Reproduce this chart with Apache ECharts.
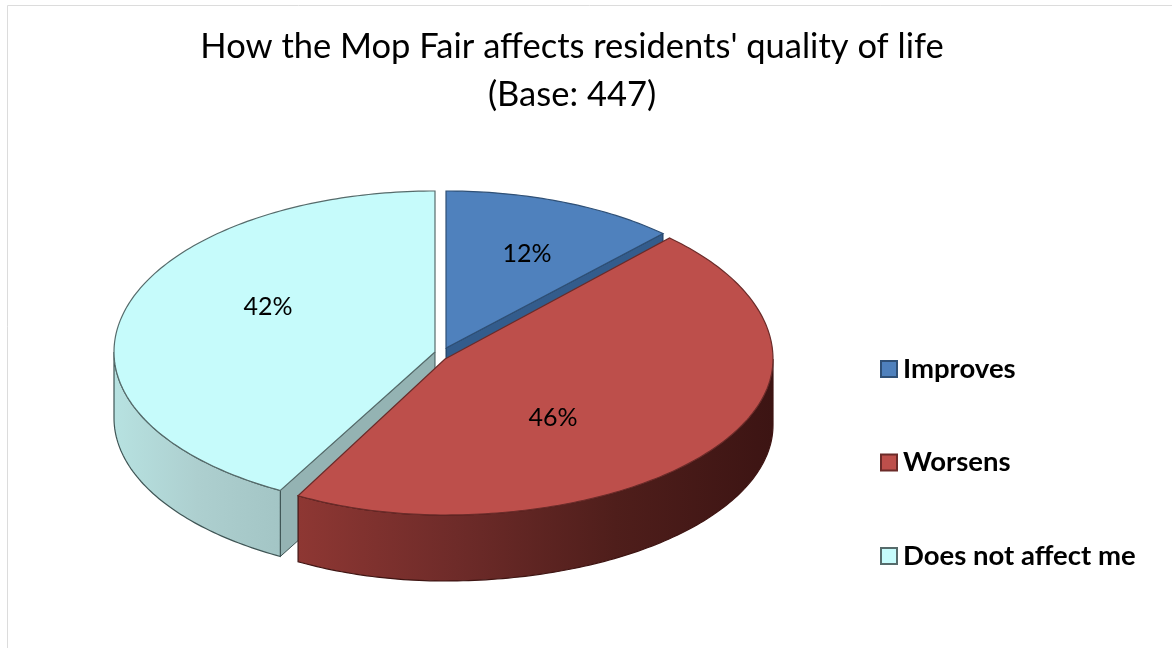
<!DOCTYPE html>
<html>
<head>
<meta charset="utf-8">
<style>
html, body { margin: 0; padding: 0; background: #fff; }
#chart { width: 1172px; height: 648px; }
</style>
<script src="https://cdn.jsdelivr.net/npm/echarts@6/dist/echarts.min.js"></script>
</head>
<body>
<div id="chart"></div>
<script>
const categories = ['Improves', 'Worsens', 'Does not affect me'];
const shares = [12, 46, 42];
const titleLines = ["How the Mop Fair affects residents' quality of life", '(Base: 447)'];

// each slice is exploded a bit differently in the original, so each has its own ellipse
const sliceLayout = [
    {cx: 446, cy: 348, rxL: 317, rxR: 317, ryT: 157, ryB: 157, labelX: 527, labelY: 254,
     top: '#4f81bd', line: '#2f5076', face: '#335c8c', faceLine: '#1d3a5c', rim: ['#3d6594', '#2c4a6e'], z: 1},
    {cx: 445, cy: 359, rxL: 305, rxR: 328, ryT: 166, ryB: 156, labelX: 553, labelY: 418,
     top: '#bd4f4b', line: '#6b2b29', face: '#7a2f2c', faceLine: '#3f1513', rim: ['#8e3733', '#6e2b29', '#4f1e1b', '#3c1413'], z: 10},
    {cx: 435, cy: 352, rxL: 321, rxR: 321, ryT: 161, ryB: 158, labelX: 268, labelY: 307,
     top: '#c6fbfb', line: '#566b6b', face: '#94b3b3', faceLine: '#3f5555', rim: ['#b7e2e1', '#adcfcf', '#a3c5c5'], z: 5}
];
const depth = 66;

const total = shares.reduce(function(a, b) { return a + b; }, 0);

function rimPoint(s, deg) {
    const rad = deg * Math.PI / 180;
    const sin = Math.sin(rad), cos = Math.cos(rad);
    return [s.cx + (sin >= 0 ? s.rxR : s.rxL) * sin, s.cy - (cos >= 0 ? s.ryT : s.ryB) * cos];
}

function arcPoints(s, from, to) {
    const pts = [];
    const steps = Math.max(2, Math.ceil(to - from));
    for (let i = 0; i <= steps; i++) {
        pts.push(rimPoint(s, from + (to - from) * i / steps));
    }
    return pts;
}

function down(p) {
    return [p[0], p[1] + depth];
}

function renderSlice(index, params, api) {
    const s = sliceLayout[index];
    let before = 0;
    for (let i = 0; i < index; i++) before += shares[i];
    const from = before / total * 360;
    const to = from + api.value(0) / total * 360;
    const apex = [s.cx, s.cy];
    const children = [];

    // cut faces, the red ones stay hidden from this viewpoint
    if (index !== 1) {
        [from, to].forEach(function(deg) {
            if (deg === 0 || deg === 360) return;
            const p = rimPoint(s, deg);
            children.push({
                type: 'polygon',
                z2: s.z,
                shape: {points: [apex, p, down(p), down(apex)]},
                style: {fill: s.face, stroke: s.faceLine, lineWidth: 1}
            });
        });
    }

    // outer wall for the part of the slice facing the viewer
    const rimFrom = Math.max(from, 90), rimTo = Math.min(to, 270);
    if (rimTo > rimFrom) {
        const arc = arcPoints(s, rimFrom, rimTo);
        const stops = s.rim.map(function(c, i) {
            return {offset: i / (s.rim.length - 1), color: c};
        });
        children.push({
            type: 'polygon',
            z2: s.z + 1,
            shape: {points: arc.concat(arc.map(down).reverse())},
            style: {
                fill: new echarts.graphic.LinearGradient(0, 0, 1, 0, stops),
                stroke: s.faceLine,
                lineWidth: 1.2
            }
        });
    }

    // top surface
    children.push({
        type: 'polygon',
        z2: s.z + 2,
        shape: {points: [apex].concat(arcPoints(s, from, to))},
        style: {fill: s.top, stroke: s.line, lineWidth: 1.2}
    });

    children.push({
        type: 'text',
        z2: 50,
        style: {
            x: s.labelX,
            y: s.labelY,
            text: api.value(0) + '%',
            fill: '#000',
            font: '25px Lato',
            align: 'center',
            verticalAlign: 'middle'
        }
    });

    return {type: 'group', children: children};
}

const chart = echarts.init(document.getElementById('chart'));

const option = {
    animation: false,
    backgroundColor: '#fff',
    title: {
        text: titleLines.join('\n'),
        left: 567,
        top: 18,
        textAlign: 'center',
        textStyle: {
            fontFamily: 'Lato',
            fontWeight: 'normal',
            fontSize: 34.5,
            lineHeight: 48,
            color: '#000'
        }
    },
    legend: {
        orient: 'vertical',
        left: 875,
        top: 350,
        icon: 'rect',
        itemWidth: 16,
        itemHeight: 16,
        itemGap: 65.5,
        data: categories,
        textStyle: {
            fontFamily: 'Lato',
            fontWeight: 'bold',
            fontSize: 27.5,
            color: '#000',
            padding: [0, 0, 0, 1]
        }
    },
    graphic: [
        {type: 'line', shape: {x1: 7.5, y1: 5.5, x2: 1172, y2: 5.5}, style: {stroke: '#dcdcdc', lineWidth: 1}},
        {type: 'line', shape: {x1: 7.5, y1: 5.5, x2: 7.5, y2: 648}, style: {stroke: '#dcdcdc', lineWidth: 1}}
    ],
    series: categories.map(function(name, index) {
        return {
            name: name,
            type: 'custom',
            coordinateSystem: 'none',
            silent: true,
            itemStyle: {color: sliceLayout[index].top, borderColor: sliceLayout[index].line, borderWidth: 1},
            data: [[shares[index]]],
            renderItem: function(params, api) {
                return renderSlice(index, params, api);
            }
        };
    })
};
chart.setOption(option);
</script>
</body>
</html>
